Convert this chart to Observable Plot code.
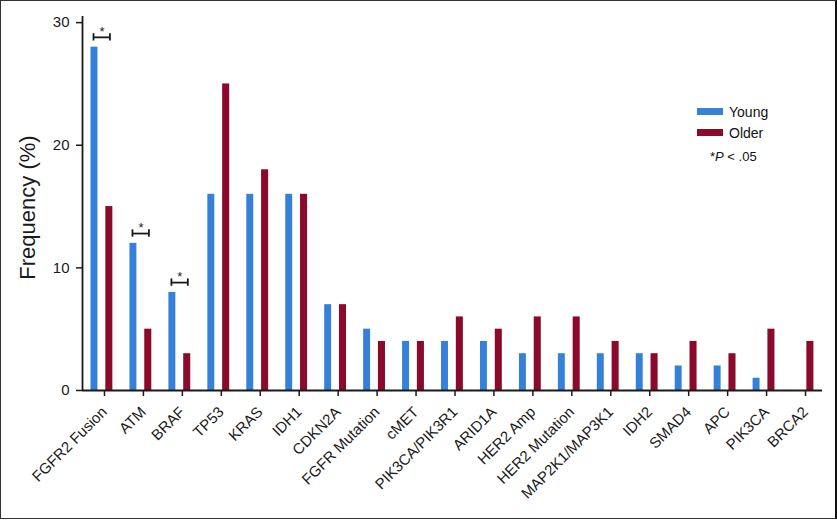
<!DOCTYPE html>
<html><head><meta charset="utf-8">
<script src="https://cdn.jsdelivr.net/npm/d3@7"></script>
<script src="https://cdn.jsdelivr.net/npm/@observablehq/plot@0.6"></script>
<style>
body{margin:0;background:#fff;}
#wrap{position:relative;width:837px;height:520px;font-family:"Liberation Sans",Arial,Helvetica,sans-serif;overflow:hidden;}
#border{position:absolute;left:0;top:0;width:834px;height:517px;border:1px solid #333;border-right:2px solid #111;pointer-events:none;}
.leg{position:absolute;font-size:14px;line-height:14px;color:#111;white-space:nowrap;}
.sw{position:absolute;width:26px;height:7px;}
</style></head><body><div id="wrap"></div>
<script>
const categories = ["FGFR2 Fusion","ATM","BRAF","TP53","KRAS","IDH1","CDKN2A","FGFR Mutation","cMET","PIK3CA/PIK3R1","ARID1A","HER2 Amp","HER2 Mutation","MAP2K1/MAP3K1","IDH2","SMAD4","APC","PIK3CA","BRCA2"];
const young = [28,12,8,16,16,16,7,5,4,4,4,3,3,3,3,2,2,1,0];
const older = [15,5,3,25,18,16,7,4,4,6,5,6,6,4,3,4,3,5,4];
const seriesNames = ["Young","Older"];
const seriesColors = ["#3580d8","#8b0a2c"];
const sigCategories = ["FGFR2 Fusion","ATM","BRAF"];
const sigLabel = "*";
const yTicks = [0,10,20,30];
const yLabel = "Frequency (%)";

const rows = categories.map((c,i)=>({gene:c, young:young[i], older:older[i]}));
const sig = rows.filter(r=>sigCategories.includes(r.gene)).map(r=>({gene:r.gene, y:r.young+0.8}));

const ink = "#1a1a1a";
const chart = Plot.plot({
  width: 837, height: 520,
  marginLeft: 82, marginRight: 15, marginTop: 16, marginBottom: 130,
  style: {fontFamily:'"Liberation Sans",Arial,Helvetica,sans-serif', fontSize:"15px", color: ink, background:"transparent"},
  x: {type:"band", domain: categories, padding: 0, round: false},
  y: {domain:[0,30.5]},
  marks: [
    Plot.barY(rows, {x:"gene", y:"young", fill: seriesColors[0], insetLeft: 8.5, insetRight: 23.5}),
    Plot.barY(rows, {x:"gene", y:"older", fill: seriesColors[1], insetLeft: 23.3, insetRight: 8.6}),
    Plot.ruleY([0], {stroke: ink, strokeWidth: 1.8}),
    Plot.ruleX([categories[0]], {y1:0, y2:30.5, dx:-19.47, stroke: ink, strokeWidth: 1.8}),
    Plot.tickY(sig, {x:"gene", y:"y", stroke: ink, strokeWidth: 1.8, insetLeft: 11, insetRight: 11.5}),
    Plot.ruleX(sig, {x:"gene", y1: d=>d.y-0.3, y2: d=>d.y+0.3, dx:-8.47, stroke: ink, strokeWidth: 1.8}),
    Plot.ruleX(sig, {x:"gene", y1: d=>d.y-0.3, y2: d=>d.y+0.3, dx:7.98, stroke: ink, strokeWidth: 1.8}),
    Plot.text(sig, {x:"gene", y:"y", text: ()=>sigLabel, dy:-5.5, fontSize: 13, fill: ink}),
    Plot.axisY({ticks: yTicks, tickSize: 6, tickPadding: 7, fontSize: 15, label: null, strokeWidth: 1.5}),
    Plot.axisX({tickSize: 6, tickPadding: 13, dx: 2.5, tickRotate: -45, fontSize: 15, label: null, strokeWidth: 1.5}),
    Plot.text([yLabel], {frameAnchor:"left", textAnchor:"middle", rotate:-90, dx:-55, dy:4, fontSize: 22, fill: ink})
  ]
});
const wrap = document.getElementById("wrap");
wrap.appendChild(chart);

// legend
const legTop = [104.8, 125.5];
seriesNames.forEach((n,i)=>{
  const sw = document.createElement("div");
  sw.className = "sw";
  sw.style.left = "697px";
  sw.style.top = (108 + i*21) + "px";
  sw.style.background = seriesColors[i];
  wrap.appendChild(sw);
  const t = document.createElement("div");
  t.className = "leg";
  t.style.left = "729px";
  t.style.top = legTop[i] + "px";
  t.textContent = n;
  wrap.appendChild(t);
});
const note = document.createElement("div");
note.className = "leg";
note.style.left = "710px";
note.style.top = "150px";
note.style.fontSize = "13px";
note.innerHTML = "*<i>P</i> &lt; .05";
wrap.appendChild(note);
const b = document.createElement("div");
b.id = "border";
wrap.appendChild(b);
</script>
</body></html>
